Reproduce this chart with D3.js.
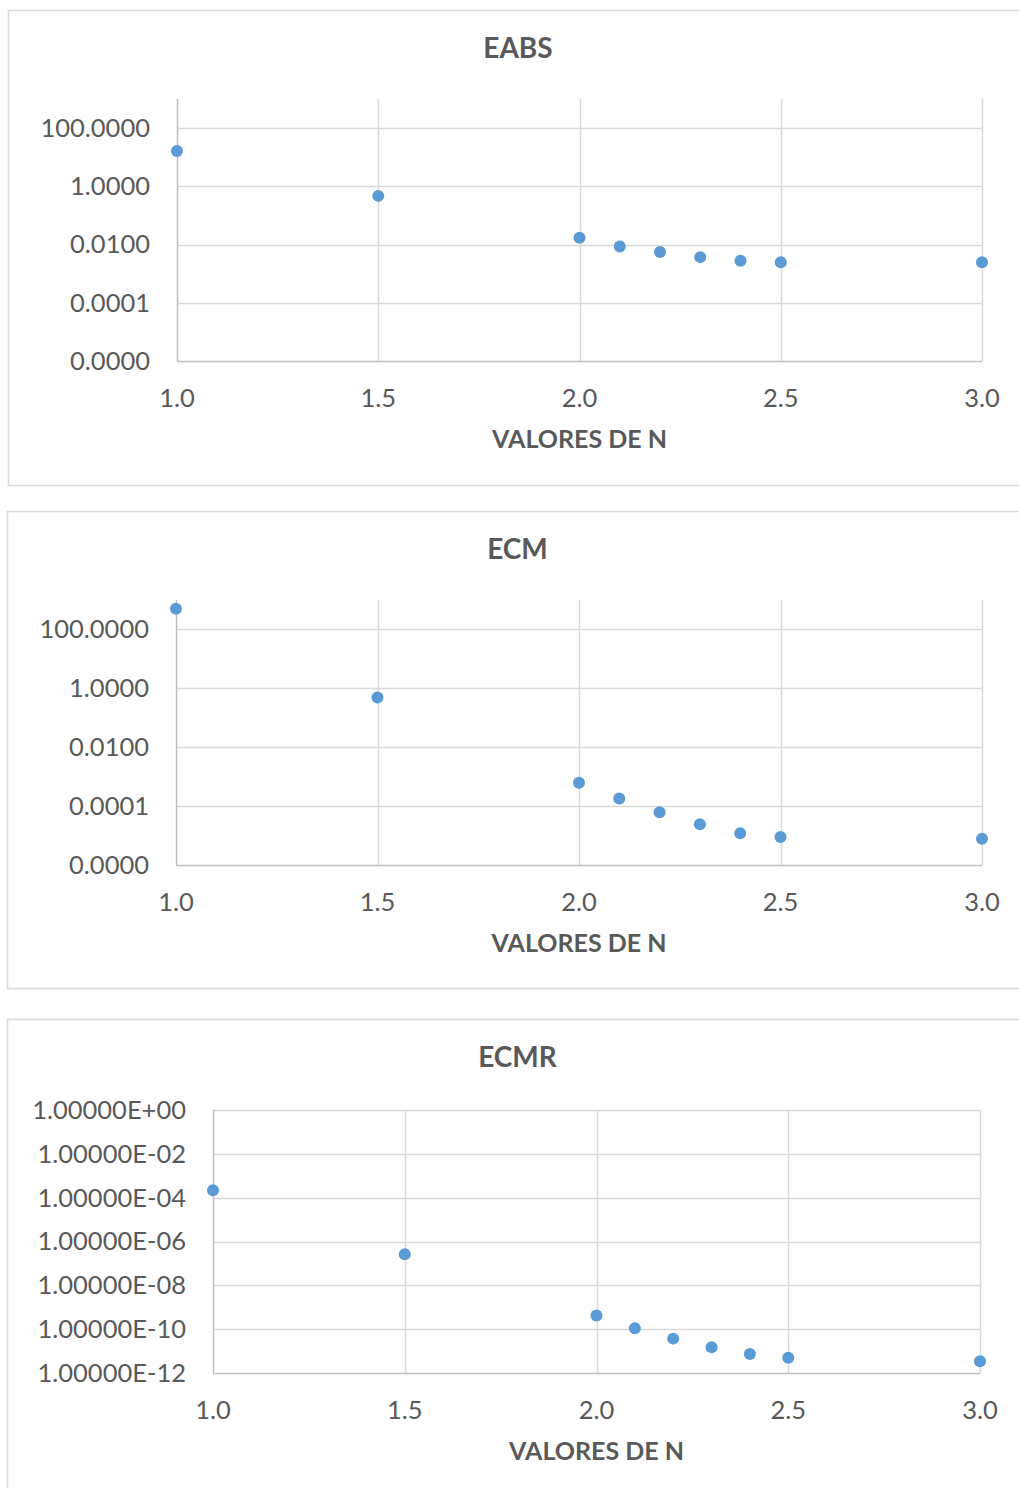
<!DOCTYPE html>
<html>
<head>
<meta charset="utf-8">
<script src="https://cdn.jsdelivr.net/npm/d3@7/dist/d3.min.js"></script>
<style>
  body { margin: 0; background: #fff; }
  text { font-family: Lato, "Open Sans", sans-serif; fill: #595959; }
</style>
</head>
<body>
<script>
// valores de N (x) shared by all three charts
var valoresN = [1.0, 1.5, 2.0, 2.1, 2.2, 2.3, 2.4, 2.5, 3.0];

// error values
var eabs = [16.5, 0.47, 0.017, 0.0085, 0.0056, 0.0037, 0.0028, 0.00246, 0.00246];
var ecm  = [500, 0.49, 0.00062, 0.00018, 0.000062, 0.000024, 0.000012, 0.0000089, 0.0000078];
var ecmr = [2.2e-4, 2.6e-7, 4.2e-10, 1.1e-10, 3.7e-11, 1.5e-11, 7.4e-12, 5.0e-12, 3.4e-12];

var xTicks = [1.0, 1.5, 2.0, 2.5, 3.0];
var yTicksA = [1e-6, 1e-4, 1e-2, 1, 100];
var yTicksB = [1e-12, 1e-10, 1e-8, 1e-6, 1e-4, 1e-2, 1];

var w = 1019,
    h = 1488;

var svg = d3.select("body").append("svg")
    .attr("width", w)
    .attr("height", h);

// one entry per chart: box + plot area
var charts = [
  { title: "EABS", values: eabs, box: [8, 10, 1028, 485], plot: [177, 99, 982, 361],
    yDomain: [1e-6, 1e3], yTicks: yTicksA, fmt: d3.format(".4f") },
  { title: "ECM", values: ecm, box: [7, 511, 1028, 988], plot: [176, 600, 982, 865],
    yDomain: [1e-6, 1e3], yTicks: yTicksA, fmt: d3.format(".4f") },
  { title: "ECMR", values: ecmr, box: [7, 1019, 1028, 1500], plot: [213, 1110, 980, 1373],
    yDomain: [1e-12, 1], yTicks: yTicksB,
    fmt: (v) => {
      var e = Math.round(Math.log10(v));
      return "1.00000E" + (e < 0 ? "-" : "+") + String(Math.abs(e)).padStart(2, "0");
    } }
];

const drawChart = (c) => {
  var g = svg.append("g");
  var [bx0, by0, bx1, by1] = c.box;
  var [px0, py0, px1, py1] = c.plot;

  g.append("rect")
    .attr("x", bx0 + 0.5).attr("y", by0 + 0.5)
    .attr("width", bx1 - bx0).attr("height", by1 - by0)
    .attr("fill", "#fff")
    .attr("stroke", "#d9d9d9")
    .attr("stroke-width", 1.5);

  var x = d3.scaleLinear().domain([1, 3]).range([px0, px1]);
  var y = d3.scaleLog().domain(c.yDomain).range([py1, py0]);

  // horizontal gridlines
  g.selectAll(".hgrid")
    .data(c.yTicks.slice(1))
    .enter().append("line")
    .attr("x1", px0).attr("x2", px1)
    .attr("y1", (d) => Math.round(y(d)) + 0.5)
    .attr("y2", (d) => Math.round(y(d)) + 0.5)
    .attr("stroke", "#d9d9d9").attr("stroke-width", 1.5);

  // vertical gridlines
  g.selectAll(".vgrid")
    .data(xTicks.slice(1))
    .enter().append("line")
    .attr("x1", (d) => Math.round(x(d)) + 0.5)
    .attr("x2", (d) => Math.round(x(d)) + 0.5)
    .attr("y1", py0).attr("y2", py1)
    .attr("stroke", "#d9d9d9").attr("stroke-width", 1.5);

  // axis lines
  g.append("line")
    .attr("x1", px0 + 0.5).attr("x2", px0 + 0.5)
    .attr("y1", py0).attr("y2", py1)
    .attr("stroke", "#bfbfbf").attr("stroke-width", 1.5);
  g.append("line")
    .attr("x1", px0).attr("x2", px1)
    .attr("y1", py1 + 0.5).attr("y2", py1 + 0.5)
    .attr("stroke", "#bfbfbf").attr("stroke-width", 1.5);

  // y tick labels
  g.selectAll(".ylab")
    .data(c.yTicks)
    .enter().append("text")
    .attr("x", px0 - 27)
    .attr("y", (d) => y(d))
    .attr("dy", "0.35em")
    .attr("text-anchor", "end")
    .style("font-size", "25.5px")
    .text(c.fmt);

  // x tick labels
  g.selectAll(".xlab")
    .data(xTicks)
    .enter().append("text")
    .attr("x", (d) => x(d))
    .attr("y", py1 + 37)
    .attr("dy", "0.35em")
    .attr("text-anchor", "middle")
    .style("font-size", "25.5px")
    .text(d3.format(".1f"));

  // titles
  g.append("text")
    .attr("x", (bx0 + bx1) / 2)
    .attr("y", by0 + 38)
    .attr("dy", "0.35em")
    .attr("text-anchor", "middle")
    .style("font-size", "28px")
    .style("font-weight", "bold")
    .text(c.title);

  g.append("text")
    .attr("x", (px0 + px1) / 2)
    .attr("y", py1 + 78)
    .attr("dy", "0.35em")
    .attr("text-anchor", "middle")
    .style("font-size", "25px")
    .style("font-weight", "bold")
    .text("VALORES DE N");

  // points
  g.selectAll("circle")
    .data(valoresN.map((n, i) => ({ n: n, v: c.values[i] })))
    .enter().append("circle")
    .attr("cx", (d) => x(d.n))
    .attr("cy", (d) => y(d.v))
    .attr("r", 6)
    .style("fill", "#5b9bd5");
};

charts.forEach(drawChart);
</script>
</body>
</html>
